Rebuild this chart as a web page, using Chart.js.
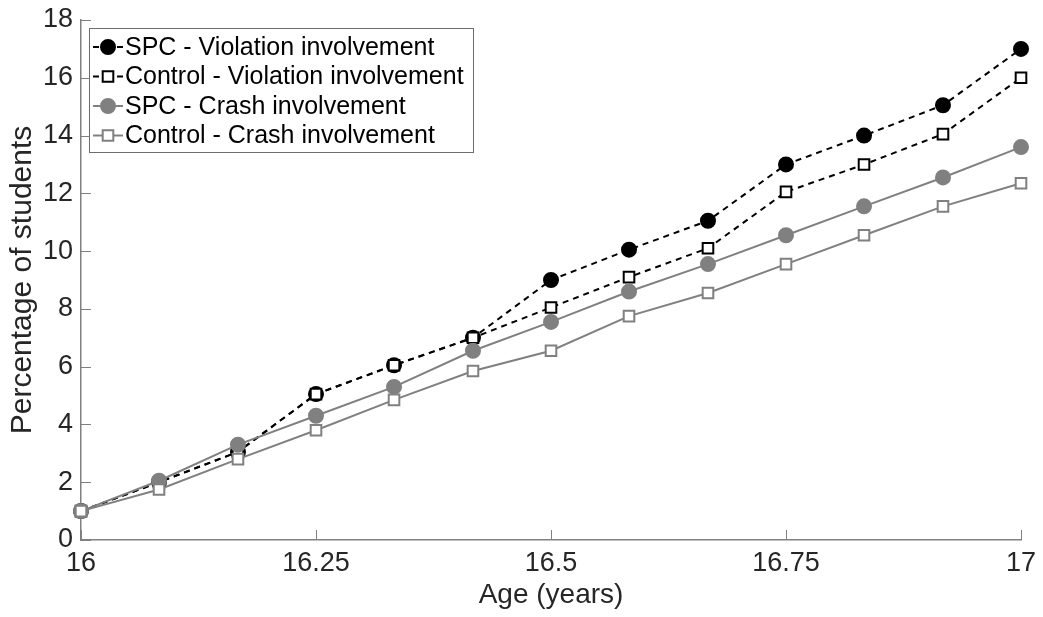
<!DOCTYPE html>
<html>
<head>
<meta charset="utf-8">
<script src="https://cdn.jsdelivr.net/npm/chart.js@4.4.1/dist/chart.umd.min.js"></script>
<style>
html, body { margin: 0; padding: 0; background: #fff; }
</style>
</head>
<body>
<canvas id="chart" width="1043" height="617"></canvas>
<script>
const ages = [16, 16.083, 16.167, 16.25, 16.333, 16.417, 16.5, 16.583, 16.667, 16.75, 16.833, 16.917, 17];
const spcViolation = [1, 2, 3.05, 5.05, 6.05, 7.0, 9.0, 10.05, 11.05, 13.0, 14.0, 15.05, 17.0];
const controlViolation = [1, 2, 3.05, 5.05, 6.05, 7.0, 8.05, 9.1, 10.1, 12.05, 13.0, 14.05, 16.0];
const spcCrash = [1, 2.05, 3.3, 4.3, 5.3, 6.55, 7.55, 8.6, 9.55, 10.55, 11.55, 12.55, 13.6];
const controlCrash = [1, 1.75, 2.8, 3.8, 4.85, 5.85, 6.55, 7.75, 8.55, 9.55, 10.55, 11.55, 12.35];
const seriesLabels = [
	"SPC - Violation involvement",
	"Control - Violation involvement",
	"SPC - Crash involvement",
	"Control - Crash involvement"
];

const fontFamily = "'Liberation Sans', Arial, Helvetica, sans-serif";
const axisColor = "#808080";
const textColor = "#262626";
const gray = "#808080";

function toPoints(values) {
	return values.map((v, i) => ({ x: ages[i], y: v }));
}

function makeDataset(label, values, color, fill, style, dashed, order) {
	return {
		label: label,
		data: toPoints(values),
		borderColor: color,
		backgroundColor: fill,
		borderWidth: 2,
		borderDash: dashed ? [6, 5] : [],
		pointStyle: style,
		pointRadius: style === "rect" ? 7.5 : 7,
		pointBorderColor: color,
		pointBackgroundColor: fill,
		pointBorderWidth: 2,
		order: order,
		clip: false,
		tension: 0
	};
}

const datasets = [
	makeDataset(seriesLabels[0], spcViolation, "#000000", "#000000", "circle", true, 4),
	makeDataset(seriesLabels[1], controlViolation, "#000000", "#ffffff", "rect", true, 3),
	makeDataset(seriesLabels[2], spcCrash, gray, gray, "circle", false, 2),
	makeDataset(seriesLabels[3], controlCrash, gray, "#ffffff", "rect", false, 1)
];

// MATLAB style ticks pointing into the plot
const inwardTicks = {
	id: "inwardTicks",
	afterDatasetsDraw(chart) {
		const { ctx, chartArea, scales } = chart;
		ctx.save();
		ctx.strokeStyle = axisColor;
		ctx.lineWidth = 1;
		ctx.setLineDash([]);
		ctx.beginPath();
		scales.x.ticks.forEach(t => {
			const px = Math.round(scales.x.getPixelForValue(t.value)) + 0.5;
			ctx.moveTo(px, chartArea.bottom);
			ctx.lineTo(px, chartArea.bottom - 10);
		});
		scales.y.ticks.forEach(t => {
			const py = Math.round(scales.y.getPixelForValue(t.value)) + 0.5;
			ctx.moveTo(chartArea.left, py);
			ctx.lineTo(chartArea.left + 10, py);
		});
		ctx.stroke();
		ctx.restore();
	}
};

function drawMarker(ctx, ds, x, y) {
	ctx.setLineDash([]);
	ctx.lineWidth = ds.pointBorderWidth;
	ctx.strokeStyle = ds.pointBorderColor;
	ctx.fillStyle = ds.pointBackgroundColor;
	ctx.beginPath();
	if (ds.pointStyle === "rect") {
		const s = ds.pointRadius * Math.SQRT1_2;
		ctx.rect(x - s, y - s, 2 * s, 2 * s);
	} else {
		ctx.arc(x, y, ds.pointRadius, 0, Math.PI * 2);
	}
	ctx.fill();
	ctx.stroke();
}

const boxLegend = {
	id: "boxLegend",
	afterDraw(chart) {
		const { ctx, chartArea } = chart;
		const left = chartArea.left + 8;
		const top = chartArea.top + 8;
		const width = 384;
		const rowHeight = 29.5;
		const height = 124;
		ctx.save();
		ctx.fillStyle = "#ffffff";
		ctx.fillRect(left, top, width, height);
		ctx.strokeStyle = "#6e6e6e";
		ctx.lineWidth = 1;
		ctx.strokeRect(left + 0.5, top + 0.5, width, height);
		ctx.font = "25px " + fontFamily;
		ctx.textBaseline = "middle";
		chart.data.datasets.forEach((ds, i) => {
			const cy = top + 19 + i * rowHeight;
			const mx = left + 19;
			ctx.strokeStyle = ds.borderColor;
			ctx.lineWidth = 2;
			ctx.beginPath();
			if (ds.borderDash.length) {
				ctx.moveTo(left + 4, cy);
				ctx.lineTo(left + 10, cy);
				ctx.moveTo(left + 28, cy);
				ctx.lineTo(left + 34, cy);
			} else {
				ctx.moveTo(left + 4, cy);
				ctx.lineTo(left + 34, cy);
			}
			ctx.stroke();
			drawMarker(ctx, ds, mx, cy);
			ctx.fillStyle = "#000000";
			ctx.fillText(ds.label, left + 36, cy + 1);
		});
		ctx.restore();
	}
};

const context = document.getElementById("chart").getContext("2d");
const chart = new Chart(context, {
	type: "line",
	data: { datasets: datasets },
	options: {
		responsive: false,
		animation: false,
		layout: { padding: { left: 5, right: 22, top: 20, bottom: 5 } },
		plugins: {
			legend: { display: false },
			tooltip: { enabled: false }
		},
		scales: {
			x: {
				type: "linear",
				min: 16,
				max: 17,
				ticks: {
					stepSize: 0.25,
					padding: 7,
					color: textColor,
					font: { family: fontFamily, size: 27 },
					maxRotation: 0,
					callback: v => String(v)
				},
				grid: { display: true, drawOnChartArea: false, drawTicks: false },
				border: { display: true, color: axisColor, width: 1.5 },
				title: {
					display: true,
					text: "Age (years)",
					color: textColor,
					font: { family: fontFamily, size: 28 },
					padding: 0
				},
				afterFit: scale => {
					scale.height = 72;
					scale.paddingLeft = 0;
					scale.paddingRight = 0;
				}
			},
			y: {
				min: 0,
				max: 18,
				ticks: {
					stepSize: 2,
					padding: 8,
					color: textColor,
					font: { family: fontFamily, size: 27 }
				},
				grid: { display: true, drawOnChartArea: false, drawTicks: false },
				border: { display: true, color: axisColor, width: 1.5 },
				title: {
					display: true,
					text: "Percentage of students",
					color: textColor,
					font: { family: fontFamily, size: 30 },
					padding: 0
				},
				afterFit: scale => {
					scale.width = 76;
					scale.paddingTop = 0;
					scale.paddingBottom = 0;
				}
			}
		}
	},
	plugins: [inwardTicks, boxLegend]
});
</script>
</body>
</html>
